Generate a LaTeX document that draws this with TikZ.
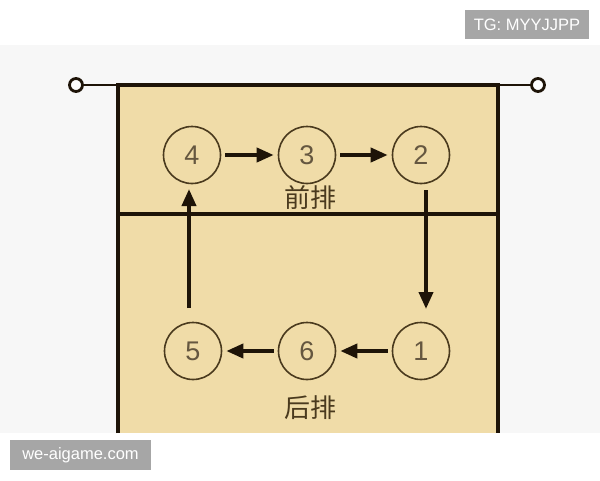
\documentclass[tikz,border=0pt]{standalone}
\usepackage{fontspec}
\setmainfont{Liberation Sans}
\newfontfamily\cjk{Noto Sans CJK SC}
\usetikzlibrary{arrows.meta}
\definecolor{bandgray}{HTML}{F7F7F7}
\definecolor{courtfill}{HTML}{F0DCA8}
\definecolor{linedark}{HTML}{1E1408}
\definecolor{circdark}{HTML}{4A3A1E}
\definecolor{wmgray}{HTML}{A6A6A6}
\tikzset{
  player/.style={circle, draw=circdark, line width=1.6pt, minimum size=57pt, inner sep=0pt,
    font=\fontsize{27}{27}\selectfont, text=circdark!85!white},
  rot/.style={line width=3.8pt, draw=linedark, -{Triangle[length=17pt,width=14pt]}},
  courtline/.style={line width=3.2pt, draw=linedark},
  wm/.style={fill=wmgray, text=white, inner sep=0pt, font=\fontsize{16.5}{16.5}\selectfont},
  rowlabel/.style={font=\cjk\fontsize{26}{26}\selectfont, text=circdark}
}
\begin{document}
\begin{tikzpicture}[x=1pt,y=-1pt]
\useasboundingbox (0,0) rectangle (600,480);
\fill[white] (0,0) rectangle (600,480);
\fill[bandgray] (0,45) rectangle (600,433);
% court
\fill[courtfill] (118,85) rectangle (498,433);
\draw[courtline] (118,433) -- (118,85) -- (498,85) -- (498,433);
\draw[courtline] (118,214) -- (498,214);
% net posts
\node[circle, draw=linedark, line width=2.8pt, fill=white, minimum size=13pt, inner sep=0pt] (pl) at (76,85) {};
\node[circle, draw=linedark, line width=2.8pt, fill=white, minimum size=13pt, inner sep=0pt] (pr) at (538,85) {};
\draw[line width=2.4pt, draw=linedark] (pl) -- (118,85);
\draw[line width=2.4pt, draw=linedark] (498,85) -- (pr);
% players
\node[player] (p4) at (192,155) {4};
\node[player] (p3) at (307,155) {3};
\node[player] (p2) at (421,155) {2};
\node[player] (p5) at (193,351) {5};
\node[player] (p6) at (307,351) {6};
\node[player] (p1) at (421,351) {1};
\node[rowlabel] (front) at (310,198) {前排};
\node[rowlabel] (back) at (310,408) {后排};
% rotation arrows
\draw[rot] ([xshift=4pt]p4.east) -- ([xshift=-4pt]p3.west);
\draw[rot] ([xshift=4pt]p3.east) -- ([xshift=-4pt]p2.west);
\coordinate (dTop) at (426,190);
\coordinate (dBot) at (426,309);
\draw[rot] (dTop) -- (dBot);
\draw[rot] ([xshift=-4pt]p1.west) -- ([xshift=4pt]p6.east);
\draw[rot] ([xshift=-4pt]p6.west) -- ([xshift=4pt]p5.east);
\coordinate (uBot) at (189,308);
\coordinate (uTop) at (189,189);
\draw[rot] (uBot) -- (uTop);
% watermarks
\node[wm, minimum width=124pt, minimum height=29pt] (tg) at (527,24.5) {TG: MYYJJPP};
\node[wm, minimum width=141pt, minimum height=30pt] (we) at (80.5,455) {we-aigame.com};
\end{tikzpicture}
\end{document}
